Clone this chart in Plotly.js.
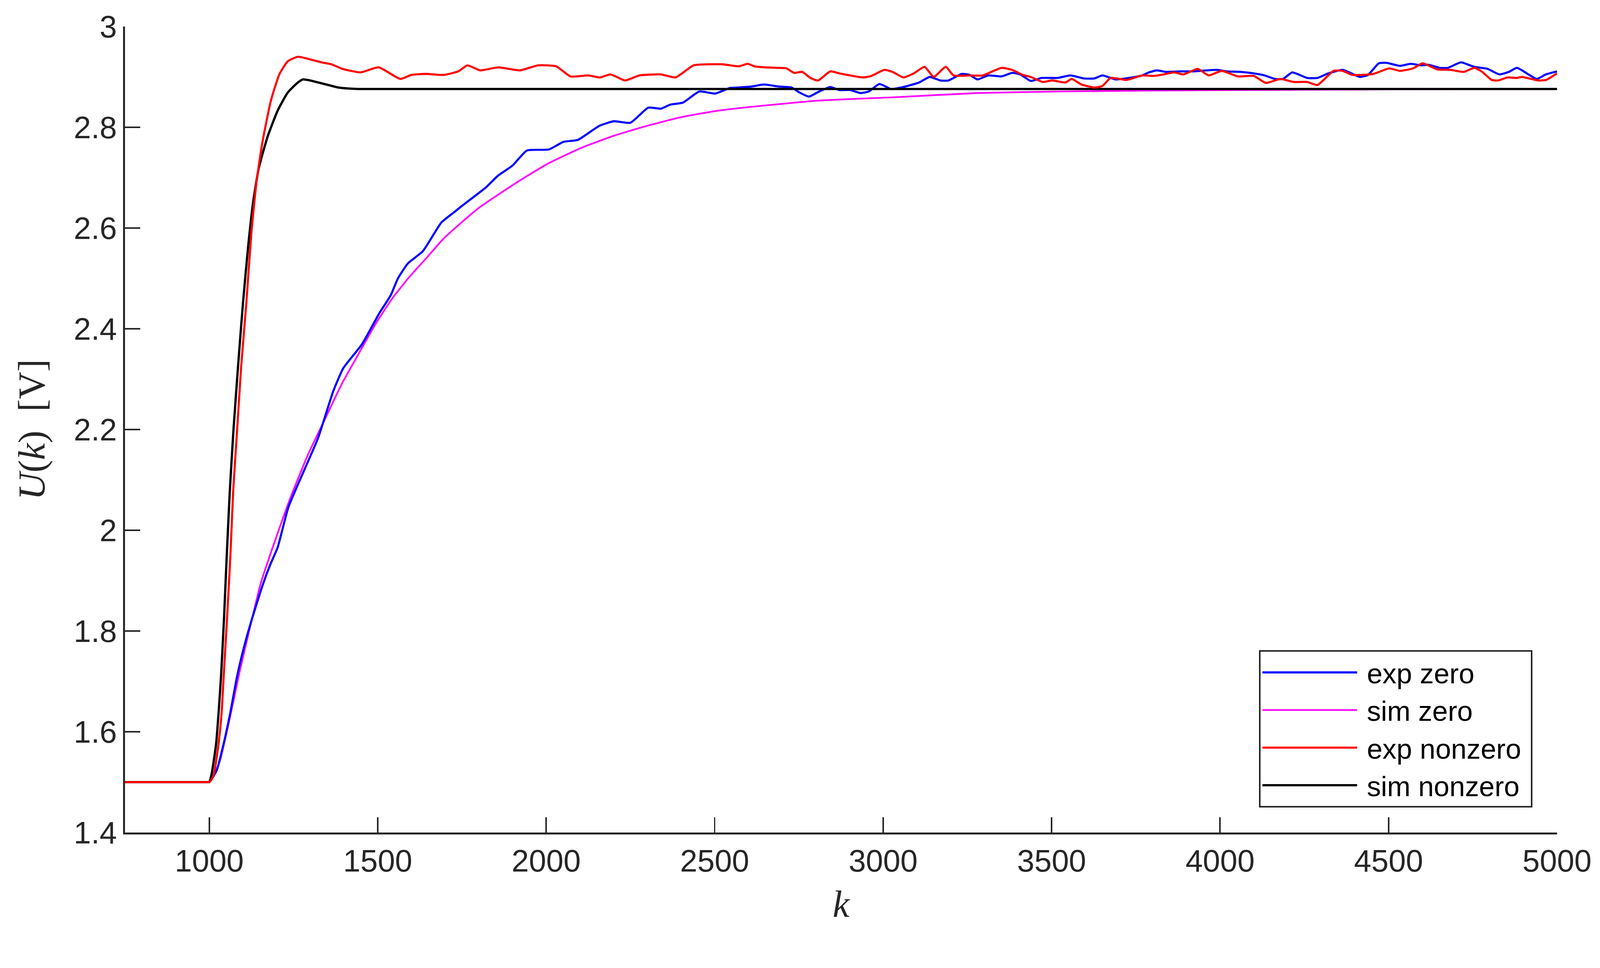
<!DOCTYPE html>
<html>
<head>
<meta charset="utf-8">
<script src="https://cdn.plot.ly/plotly-3.0.1.min.js"></script>
<style>
  html, body { margin: 0; padding: 0; background: #fff; overflow: hidden; }
</style>
</head>
<body>
<div id="chart"></div>
<script>
// exp zero (blue)
const kExpZero = [750,980,995,1000,1022,1042,1062,1082,1102,1125,1158,1180,1203,1235,1283,1323,1368,1398,1453,1504,1539,1560,1590,1634,1689,1728,1752,1820,1857,1900,1943,2008,2051,2094,2158,2201,2250,2303,2341,2368,2406,2454,2502,2545,2571,2610,2646,2689,2728,2752,2780,2807,2843,2870,2902,2933,2957,2989,3024,3060,3107,3138,3170,3194,3233,3257,3280,3312,3351,3383,3407,3438,3470,3517,3556,3596,3627,3651,3690,3730,3769,3785,3812,3840,3879,3919,3942,3990,4021,4061,4100,4132,4163,4187,4214,4258,4289,4321,4364,4415,4439,4471,4494,4534,4565,4597,4620,4652,4676,4715,4754,4794,4829,4857,4881,4920,4940,4967,5000]
const uExpZero = [1.5,1.5,1.5,1.5,1.523,1.574,1.636,1.708,1.765,1.820,1.890,1.930,1.966,2.046,2.121,2.183,2.276,2.322,2.369,2.430,2.467,2.500,2.530,2.554,2.611,2.632,2.645,2.680,2.704,2.724,2.754,2.756,2.771,2.775,2.803,2.812,2.809,2.839,2.837,2.845,2.849,2.871,2.867,2.878,2.879,2.881,2.885,2.881,2.879,2.869,2.861,2.870,2.880,2.874,2.874,2.868,2.871,2.886,2.876,2.880,2.889,2.900,2.893,2.893,2.906,2.904,2.895,2.903,2.901,2.908,2.905,2.892,2.898,2.898,2.903,2.897,2.897,2.903,2.895,2.898,2.903,2.908,2.913,2.910,2.911,2.911,2.912,2.914,2.911,2.910,2.907,2.903,2.896,2.896,2.909,2.898,2.898,2.907,2.914,2.900,2.904,2.927,2.928,2.922,2.926,2.923,2.924,2.918,2.918,2.929,2.920,2.916,2.905,2.910,2.918,2.903,2.896,2.905,2.911]

// sim zero (magenta)
const kSimZero = [750,980,995,1000,1012,1032,1062,1092,1122,1153,1193,1243,1293,1343,1393,1443,1494,1544,1594,1644,1694,1750,1800,1900,2000,2100,2200,2300,2400,2500,2600,2807,3044,3280,3517,3807,4061,4396,4700,5000]
const uSimZero = [1.5,1.5,1.5,1.5,1.510,1.543,1.630,1.725,1.810,1.895,1.975,2.068,2.150,2.220,2.290,2.350,2.410,2.461,2.503,2.540,2.578,2.612,2.640,2.685,2.726,2.758,2.783,2.803,2.820,2.832,2.840,2.853,2.860,2.868,2.871,2.873,2.874,2.875,2.876,2.876]

// exp nonzero (red)
const kExpNonzero = [750,980,995,1000,1007,1014,1028,1037,1042,1053,1063,1071,1083,1095,1110,1125,1140,1158,1183,1208,1233,1263,1293,1333,1363,1395,1449,1503,1567,1600,1643,1696,1739,1766,1804,1858,1922,1976,2030,2072,2126,2159,2191,2234,2277,2341,2384,2438,2524,2571,2598,2618,2650,2689,2713,2736,2760,2784,2807,2843,2870,2902,2941,2965,3004,3028,3060,3091,3123,3150,3186,3209,3257,3296,3351,3383,3414,3438,3474,3501,3541,3560,3588,3627,3651,3675,3722,3769,3804,3832,3864,3891,3934,3966,4005,4053,4100,4136,4179,4218,4258,4289,4337,4364,4392,4455,4502,4534,4573,4601,4644,4684,4723,4755,4778,4806,4826,4853,4881,4896,4944,4967,5000]
const uExpNonzero = [1.5,1.5,1.5,1.5,1.505,1.516,1.578,1.640,1.700,1.827,1.952,2.077,2.202,2.327,2.450,2.590,2.690,2.771,2.853,2.905,2.931,2.940,2.936,2.929,2.925,2.916,2.909,2.919,2.896,2.904,2.906,2.904,2.911,2.923,2.913,2.919,2.913,2.923,2.921,2.901,2.903,2.899,2.905,2.893,2.903,2.905,2.899,2.923,2.925,2.921,2.926,2.921,2.919,2.918,2.917,2.908,2.910,2.898,2.893,2.911,2.907,2.903,2.899,2.902,2.914,2.910,2.899,2.907,2.920,2.900,2.920,2.903,2.903,2.903,2.918,2.914,2.904,2.900,2.890,2.893,2.889,2.896,2.885,2.879,2.882,2.898,2.894,2.903,2.902,2.905,2.909,2.905,2.916,2.903,2.912,2.901,2.902,2.888,2.896,2.890,2.890,2.884,2.912,2.912,2.904,2.906,2.917,2.912,2.917,2.927,2.915,2.914,2.910,2.918,2.910,2.894,2.893,2.899,2.898,2.900,2.893,2.894,2.907]

// sim nonzero (black)
const kSimNonzero = [750,980,995,1000,1007,1014,1021,1028,1035,1044,1052,1061,1072,1086,1100,1115,1130,1147,1173,1203,1233,1263,1278,1300,1323,1353,1383,1413,1443,5000]
const uSimNonzero = [1.5,1.5,1.5,1.5,1.516,1.545,1.580,1.640,1.710,1.827,1.950,2.077,2.200,2.330,2.450,2.560,2.650,2.719,2.781,2.833,2.869,2.889,2.895,2.893,2.889,2.884,2.879,2.877,2.876,2.876]

const xRange = [750, 5000]
const yRange = [1.4, 3]

// layout numbers are on a 4224 x 2479 grid, scaled to the real viewport width
const s = (window.innerWidth || 4224) / 4224
const W = 4224 * s
const H = 2479 * s
document.getElementById('chart').style.width = W + 'px'
document.getElementById('chart').style.height = H + 'px'

const axisCol = '#262626'
const tickFont = {family: 'Liberation Sans, Arial, sans-serif', size: 82 * s, color: axisCol}
const titleFont = {family: 'Liberation Serif, DejaVu Serif, serif', size: 100 * s, color: axisCol}

function lineStyle(color, width) {
    return {color: color, width: width * s, shape: 'spline', smoothing: 0.5}
}

const nb = '\u00a0'

// drawing order: magenta, blue, black, red  (legend order set by legendrank)
let traces = [
    {x: kSimZero, y: uSimZero, name: nb + 'sim zero' + nb, legendrank: 2,
     type: 'scatter', mode: 'lines', line: lineStyle('#ff00ff', 4.5)},
    {x: kExpZero, y: uExpZero, name: nb + 'exp zero' + nb, legendrank: 1,
     type: 'scatter', mode: 'lines', line: lineStyle('#0000ff', 5.5)},
    {x: kSimNonzero, y: uSimNonzero, name: nb + 'sim nonzero' + nb, legendrank: 4,
     type: 'scatter', mode: 'lines', line: lineStyle('#000000', 6)},
    {x: kExpNonzero, y: uExpNonzero, name: nb + 'exp nonzero' + nb, legendrank: 3,
     type: 'scatter', mode: 'lines', line: lineStyle('#ff0000', 5.5)}
]

let layout = {
    width: W,
    height: H,
    paper_bgcolor: '#ffffff',
    plot_bgcolor: '#ffffff',
    margin: {l: 330 * s, r: 113 * s, t: 70 * s, b: 281 * s},
    showlegend: true,
    legend: {
        x: 0.9828, y: 0.031, xanchor: 'right', yanchor: 'bottom',
        bgcolor: '#ffffff', bordercolor: axisCol, borderwidth: 4 * s,
        font: {family: 'Liberation Sans, Arial, sans-serif', size: 74 * s, color: '#000000'},
        itemwidth: 250 * s, traceorder: 'normal'
    },
    xaxis: {
        range: xRange,
        tick0: 1000, dtick: 500,
        ticks: 'inside', ticklen: 40 * s, tickwidth: 4 * s, tickcolor: axisCol,
        showline: true, linecolor: axisCol, linewidth: 5 * s,
        showgrid: false, zeroline: false,
        tickfont: tickFont,
        title: {text: '<i>k</i>', font: titleFont, standoff: 34 * s},
        automargin: false
    },
    yaxis: {
        range: yRange,
        tick0: 1.4, dtick: 0.2,
        ticks: 'inside', ticklen: 40 * s, tickwidth: 4 * s, tickcolor: axisCol,
        showline: true, linecolor: axisCol, linewidth: 5 * s,
        showgrid: false, zeroline: false,
        tickfont: tickFont, ticklabelstandoff: 29 * s,
        title: {text: '<i>U</i>(<i>k</i>)  [V]', font: titleFont, standoff: 45 * s},
        automargin: false
    }
}

Plotly.newPlot('chart', traces, layout, {displayModeBar: false, staticPlot: true});
</script>
</body>
</html>
